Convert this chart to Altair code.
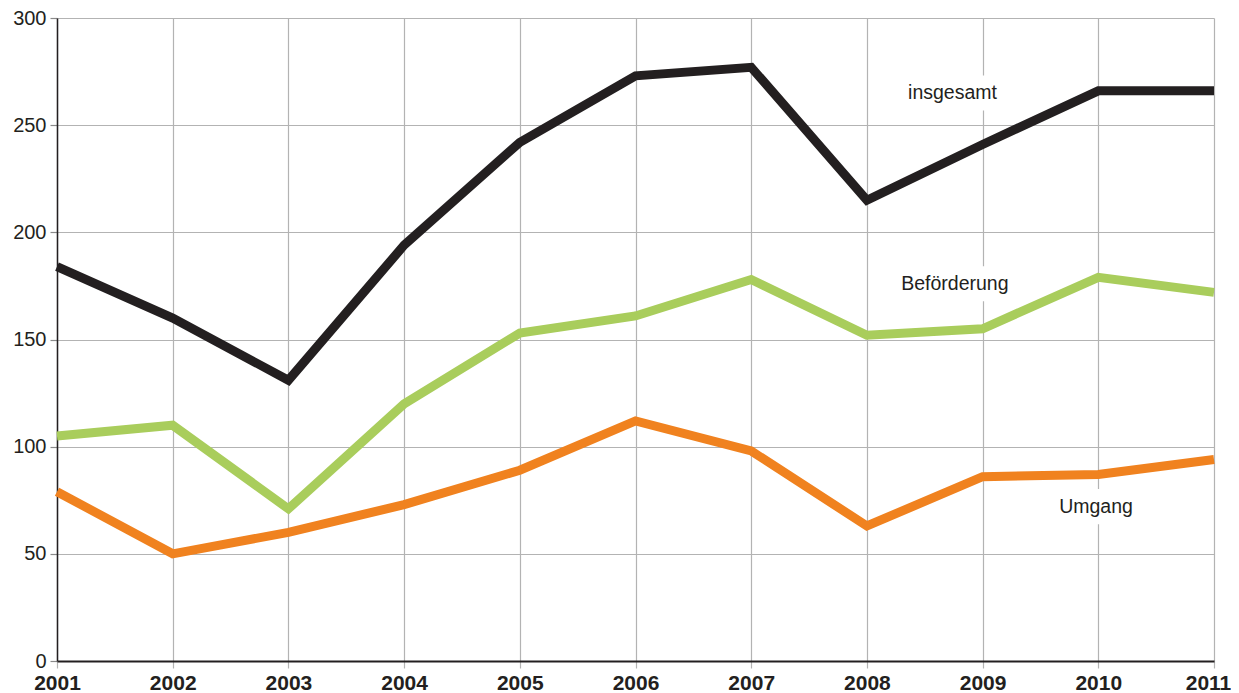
import altair as alt
import pandas as pd

years = [2001, 2002, 2003, 2004, 2005, 2006, 2007, 2008, 2009, 2010, 2011]
insgesamt = [184, 160, 131, 194, 242, 273, 277, 215, 241, 266, 266]
befoerderung = [105, 110, 71, 120, 153, 161, 178, 152, 155, 179, 172]
umgang = [79, 50, 60, 73, 89, 112, 98, 63, 86, 87, 94]

series_names = ["insgesamt", "Beförderung", "Umgang"]
series_colors = ["#231f20", "#a9cd5c", "#f0821f"]

label_x = [2008.74, 2008.76, 2009.98]
label_y = [265, 176, 72]

rows = []
for name, vals in zip(series_names, [insgesamt, befoerderung, umgang]):
    for yr, v in zip(years, vals):
        rows.append({"Jahr": yr, "Wert": v, "Serie": name})
df = pd.DataFrame(rows)

labels = pd.DataFrame({"Jahr": label_x, "Wert": label_y, "Text": series_names})

FONT = "Liberation Sans"

x_enc = alt.X(
    "Jahr:Q",
    scale=alt.Scale(domain=[2001, 2011], nice=False, zero=False),
    axis=alt.Axis(
        values=years, format="d", title=None, grid=True, gridColor="#b3b3b3",
        gridWidth=1.2, domainColor="#231f20", domainWidth=2, tickColor="#b3b3b3",
        tickSize=7, tickWidth=1.2, labelFont=FONT, labelFontSize=21,
        labelFontWeight="bold", labelColor="#231f20", labelPadding=4,
        labelFlush=False, labelOverlap=False,
        labelOffset={"condition": {"test": "datum.value == 2011", "value": -6}, "value": 0},
    ),
)
y_enc = alt.Y(
    "Wert:Q",
    scale=alt.Scale(domain=[0, 300], nice=False),
    axis=alt.Axis(
        values=[0, 50, 100, 150, 200, 250, 300], title=None, grid=True,
        gridColor="#b3b3b3", gridWidth=1.2, domainColor="#231f20", domainWidth=1.5,
        tickColor="#8a8a8a", tickSize=7, tickWidth=1.2, labelFont=FONT,
        labelFontSize=20, labelColor="#231f20", labelPadding=4,
        labelFlush=False, labelOverlap=False,
    ),
)

lines = alt.Chart(df).mark_line(strokeWidth=9, strokeJoin="miter", strokeCap="butt").encode(
    x=x_enc,
    y=y_enc,
    color=alt.Color("Serie:N", scale=alt.Scale(domain=series_names, range=series_colors), legend=None),
    detail="Serie:N",
)

bg = alt.Chart(labels).mark_point(
    shape="M-1,-0.32L1,-0.32L1,0.32L-1,0.32Z", filled=True, fill="white",
    opacity=1, strokeWidth=0, size=12100,
).encode(x="Jahr:Q", y="Wert:Q")

txt = alt.Chart(labels).mark_text(
    font=FONT, fontSize=19.5, color="#231f20", align="center", baseline="middle"
).encode(x="Jahr:Q", y="Wert:Q", text="Text:N")

chart = alt.layer(lines, bg, txt).properties(
    width=1157, height=643,
    autosize=alt.AutoSizeParams(type="none"),
    padding={"left": 49, "top": 10, "right": 17, "bottom": 32},
).configure_view(stroke=None)

chart.save("out.html", embed_options={"renderer": "svg", "actions": False})
